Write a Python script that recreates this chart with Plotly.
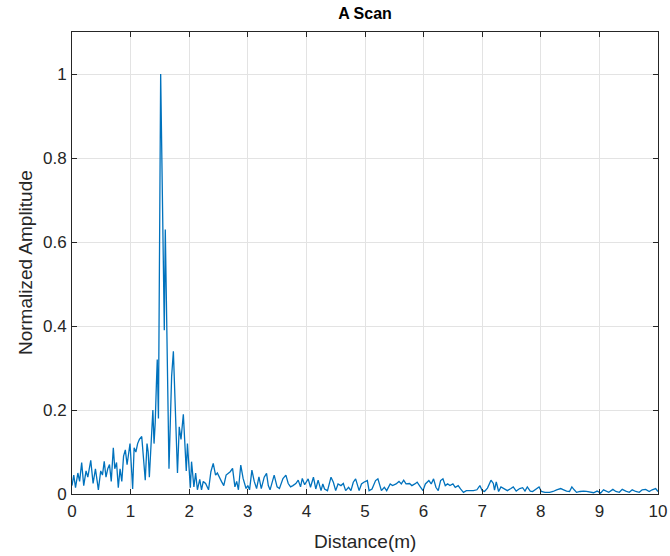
import plotly.graph_objects as go

distance_m = [
    0.00, 0.03, 0.06, 0.10, 0.13, 0.165, 0.20, 0.24, 0.27, 0.32, 0.36, 0.40, 0.43, 0.45, 0.49,
    0.52, 0.55, 0.58, 0.61, 0.64, 0.67, 0.705, 0.73, 0.76, 0.79, 0.82, 0.85, 0.88, 0.91, 0.94,
    0.97, 0.99, 1.02, 1.035, 1.06, 1.09, 1.12, 1.15, 1.19, 1.22, 1.25, 1.28, 1.30, 1.32, 1.35,
    1.38, 1.40, 1.42, 1.44, 1.455, 1.475, 1.513, 1.575, 1.592, 1.655, 1.70, 1.73, 1.76, 1.80,
    1.83, 1.86, 1.90, 1.93, 1.95, 1.97, 2.00, 2.02, 2.04, 2.08, 2.11, 2.14, 2.18, 2.21, 2.24,
    2.28, 2.33, 2.37, 2.41, 2.45, 2.48, 2.51, 2.55, 2.59, 2.63, 2.70, 2.74, 2.78, 2.81, 2.84,
    2.88, 2.92, 2.97, 3.00, 3.03, 3.07, 3.11, 3.15, 3.19, 3.23, 3.28, 3.32, 3.35, 3.38, 3.45,
    3.50, 3.54, 3.60, 3.65, 3.69, 3.73, 3.77, 3.82, 3.86, 3.90, 3.93, 3.97, 4.03, 4.07, 4.12,
    4.16, 4.20, 4.25, 4.28, 4.31, 4.36, 4.42, 4.46, 4.50, 4.54, 4.59, 4.63, 4.67, 4.72, 4.76,
    4.80, 4.84, 4.90, 4.94, 4.98, 5.04, 5.07, 5.12, 5.18, 5.22, 5.28, 5.33, 5.37, 5.43, 5.47,
    5.53, 5.58, 5.62, 5.66, 5.70, 5.76, 5.80, 5.85, 5.89, 5.95, 5.99, 6.03, 6.09, 6.13, 6.17,
    6.21, 6.25, 6.29, 6.33, 6.37, 6.41, 6.45, 6.50, 6.54, 6.59, 6.63, 6.68, 6.73, 6.79, 6.85,
    6.91, 6.96, 7.00, 7.04, 7.09, 7.15, 7.19, 7.21, 7.24, 7.28, 7.32, 7.38, 7.43, 7.49, 7.53,
    7.58, 7.64, 7.69, 7.73, 7.77, 7.82, 7.86, 7.93, 7.97, 8.01, 8.07, 8.15, 8.21, 8.27, 8.34,
    8.39, 8.44, 8.49, 8.53, 8.57, 8.61, 8.67, 8.73, 8.78, 8.84, 8.90, 8.96, 9.02, 9.07, 9.11,
    9.16, 9.23, 9.28, 9.34, 9.39, 9.45, 9.51, 9.56, 9.62, 9.68, 9.73, 9.79, 9.85, 9.90, 9.96,
    10.0,
]

amplitude = [
    0.020, 0.045, 0.015, 0.050, 0.030, 0.075, 0.020, 0.055, 0.040, 0.080, 0.025, 0.060, 0.030, 0.010, 0.055,
    0.045, 0.078, 0.040, 0.060, 0.070, 0.030, 0.110, 0.060, 0.075, 0.015, 0.060, 0.030, 0.090, 0.105, 0.070,
    0.100, 0.120, 0.050, 0.012, 0.110, 0.100, 0.120, 0.130, 0.137, 0.090, 0.033, 0.120, 0.100, 0.040, 0.130,
    0.200, 0.120, 0.170, 0.260, 0.320, 0.180, 1.000, 0.390, 0.630, 0.060, 0.280, 0.340, 0.200, 0.050,
    0.160, 0.130, 0.190, 0.100, 0.055, 0.120, 0.040, 0.015, 0.077, 0.017, 0.050, 0.010, 0.035, 0.010, 0.030,
    0.025, 0.010, 0.053, 0.073, 0.045, 0.050, 0.040, 0.030, 0.020, 0.045, 0.053, 0.061, 0.017, 0.030, 0.010,
    0.069, 0.037, 0.013, 0.020, 0.010, 0.057, 0.030, 0.013, 0.041, 0.013, 0.040, 0.049, 0.020, 0.010, 0.045,
    0.017, 0.013, 0.037, 0.045, 0.025, 0.017, 0.020, 0.025, 0.033, 0.017, 0.037, 0.022, 0.036, 0.016, 0.040,
    0.012, 0.033, 0.008, 0.024, 0.012, 0.008, 0.040, 0.028, 0.008, 0.024, 0.020, 0.025, 0.008, 0.016, 0.008,
    0.028, 0.036, 0.008, 0.024, 0.028, 0.032, 0.008, 0.012, 0.032, 0.036, 0.008, 0.016, 0.008, 0.024, 0.020,
    0.024, 0.030, 0.024, 0.033, 0.024, 0.025, 0.020, 0.024, 0.028, 0.016, 0.008, 0.024, 0.032, 0.024, 0.036,
    0.016, 0.008, 0.032, 0.036, 0.020, 0.024, 0.020, 0.024, 0.016, 0.020, 0.012, 0.004, 0.008, 0.008, 0.008,
    0.010, 0.020, 0.008, 0.006, 0.014, 0.033, 0.025, 0.009, 0.029, 0.006, 0.017, 0.013, 0.008, 0.013, 0.017,
    0.007, 0.013, 0.015, 0.007, 0.017, 0.007, 0.006, 0.013, 0.017, 0.006, 0.004, 0.004, 0.006, 0.010, 0.013,
    0.010, 0.007, 0.006, 0.017, 0.010, 0.004, 0.006, 0.007, 0.006, 0.004, 0.003, 0.007, 0.002, 0.010, 0.007,
    0.004, 0.011, 0.006, 0.004, 0.011, 0.007, 0.004, 0.010, 0.006, 0.004, 0.010, 0.011, 0.006, 0.010, 0.013,
    0.006,
]

x_ticks = [0, 1, 2, 3, 4, 5, 6, 7, 8, 9, 10]
y_ticks = [0, 0.2, 0.4, 0.6, 0.8, 1]
y_tick_labels = ["0", "0.2", "0.4", "0.6", "0.8", "1"]

title_text = "A Scan"
x_label = "Distance(m)"
y_label = "Normalized Amplitude"

FONT = "Liberation Sans, Arial, sans-serif"
AX = "#262626"
W, H = 670, 556
L, R, T, B = 72, 12, 32, 62

fig = go.Figure()
fig.add_trace(go.Scatter(
    x=distance_m, y=amplitude, mode="lines",
    line=dict(color="#0072BD", width=1.3),
    showlegend=False, hoverinfo="skip",
))

axis_common = dict(
    showline=True, linecolor=AX, linewidth=1, mirror="ticks",
    ticks="inside", ticklen=5, tickcolor=AX, tickwidth=1,
    showgrid=True, gridcolor="#e3e3e3", gridwidth=1,
    zeroline=False, automargin=False, ticklabeloverflow="allow",
    tickfont=dict(family=FONT, size=17, color=AX),
)

fig.update_xaxes(range=[0, 10], tickvals=x_ticks,
                 ticktext=[str(v) for v in x_ticks], ticklabelstandoff=2,
                 **axis_common)
fig.update_yaxes(range=[0, 1.1], tickvals=y_ticks,
                 ticktext=y_tick_labels, ticklabelstandoff=1,
                 **axis_common)

pw = W - L - R
ph = H - T - B
# axis titles as paper-referenced annotations
fig.add_annotation(text=x_label, xref="paper", yref="paper",
                   x=(365 - L) / pw, y=-(541 - (H - B)) / ph,
                   xanchor="center", yanchor="middle", showarrow=False,
                   font=dict(family=FONT, size=19, color=AX))
fig.add_annotation(text=y_label, xref="paper", yref="paper",
                   x=-(L - 25) / pw, y=(H - B - 263) / ph, textangle=-90,
                   xanchor="center", yanchor="middle", showarrow=False,
                   font=dict(family=FONT, size=19, color=AX))

fig.update_layout(
    width=W, height=H,
    margin=dict(l=L, r=R, t=T, b=B, autoexpand=False),
    paper_bgcolor="white", plot_bgcolor="white",
    title=dict(text="<b>" + title_text + "</b>", x=0.5, xanchor="center",
               xref="paper", y=1 - 13 / H, yanchor="middle",
               font=dict(family=FONT, size=16, color="#000000")),
    font=dict(family=FONT, color=AX),
)

fig.write_html("out.html")
